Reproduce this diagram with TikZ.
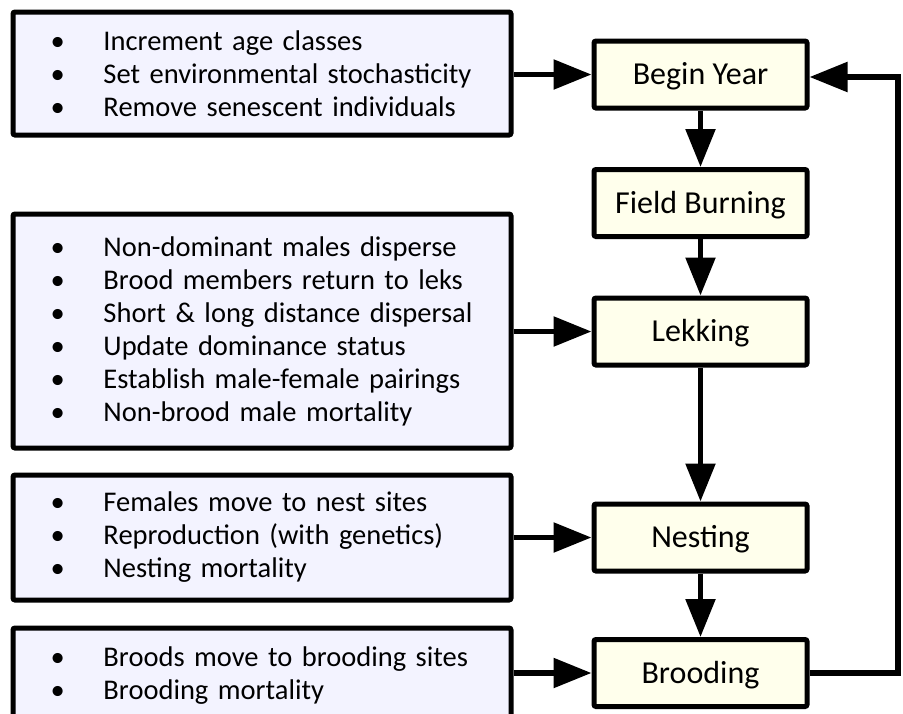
\documentclass[tikz,border=0pt]{standalone}
\usepackage{fontspec}
\setmainfont{Carlito}
\usetikzlibrary{arrows.meta}
\definecolor{leftfill}{RGB}{243,243,255}
\definecolor{rightfill}{RGB}{255,255,236}
\newcommand{\bitem}[1]{\makebox[53pt][l]{\textbullet}#1}
\begin{document}
\begin{tikzpicture}[x=1pt,y=-1pt,
  listbox/.style={draw=black,line width=5pt,fill=leftfill,rounded corners=2pt,
    minimum width=498pt,text width=423pt,inner xsep=37pt,align=left,
    font=\fontsize{28.5}{33}\selectfont},
  stagebox/.style={draw=black,line width=5pt,fill=rightfill,rounded corners=2pt,
    minimum width=213pt,minimum height=67pt,inner sep=0pt,
    text height=21pt,text depth=1pt,
    font=\fontsize{32}{36}\selectfont},
  conn/.style={line width=5.5pt,-{Triangle[length=38pt,width=29pt]}}]
\useasboundingbox (0,0) rectangle (903,713);
\clip (0,0) rectangle (903,713);
\fill[white] (0,0) rectangle (903,713);
% stage boxes
\node[stagebox] (by) at (700.5,74.5) {Begin Year};
\node[stagebox] (fb) at (700.5,203) {Field Burning};
\node[stagebox] (lk) at (700.5,331.5) {Lekking};
\node[stagebox] (ns) at (700.5,537.5) {Nesting};
\node[stagebox] (br) at (700.5,673) {Brooding};
% list boxes
\node[listbox,minimum height=123pt] (l1) at (262,73.5) {\bitem{Increment age classes}\\\bitem{Set environmental stochasticity}\\\bitem{Remove senescent individuals}};
\node[listbox,minimum height=234pt] (l2) at (262,331) {\bitem{Non-dominant males disperse}\\\bitem{Brood members return to leks}\\\bitem{Short \& long distance dispersal}\\\bitem{Update dominance status}\\\bitem{Establish male-female pairings}\\\bitem{Non-brood male mortality}};
\node[listbox,minimum height=125pt] (l3) at (262,537.5) {\bitem{Females move to nest sites}\\\bitem{Reproduction (with genetics)}\\\bitem{Nesting mortality}};
\node[listbox,minimum height=96pt] (l4) at (262,676) {\bitem{Broods move to brooding sites}\\\bitem{Brooding mortality}};
% vertical flow
\draw[conn] (by) -- (fb);
\draw[conn] (fb) -- (lk);
\draw[conn] (lk) -- (ns);
\draw[conn] (ns) -- (br);
% inputs
\draw[conn] (l1.east |- by.west) -- (by.west);
\draw[conn] (l2.east |- lk.west) -- (lk.west);
\draw[conn] (l3.east |- ns.west) -- (ns.west);
\draw[conn] (l4.east |- br.west) -- (br.west);
% loop back
\coordinate (c1) at (898,673);
\coordinate (c2) at (898,77);
\draw[conn,line join=miter] (br.east) -- (c1) -- (c2) -- (by.east |- c2);
\end{tikzpicture}
\end{document}
